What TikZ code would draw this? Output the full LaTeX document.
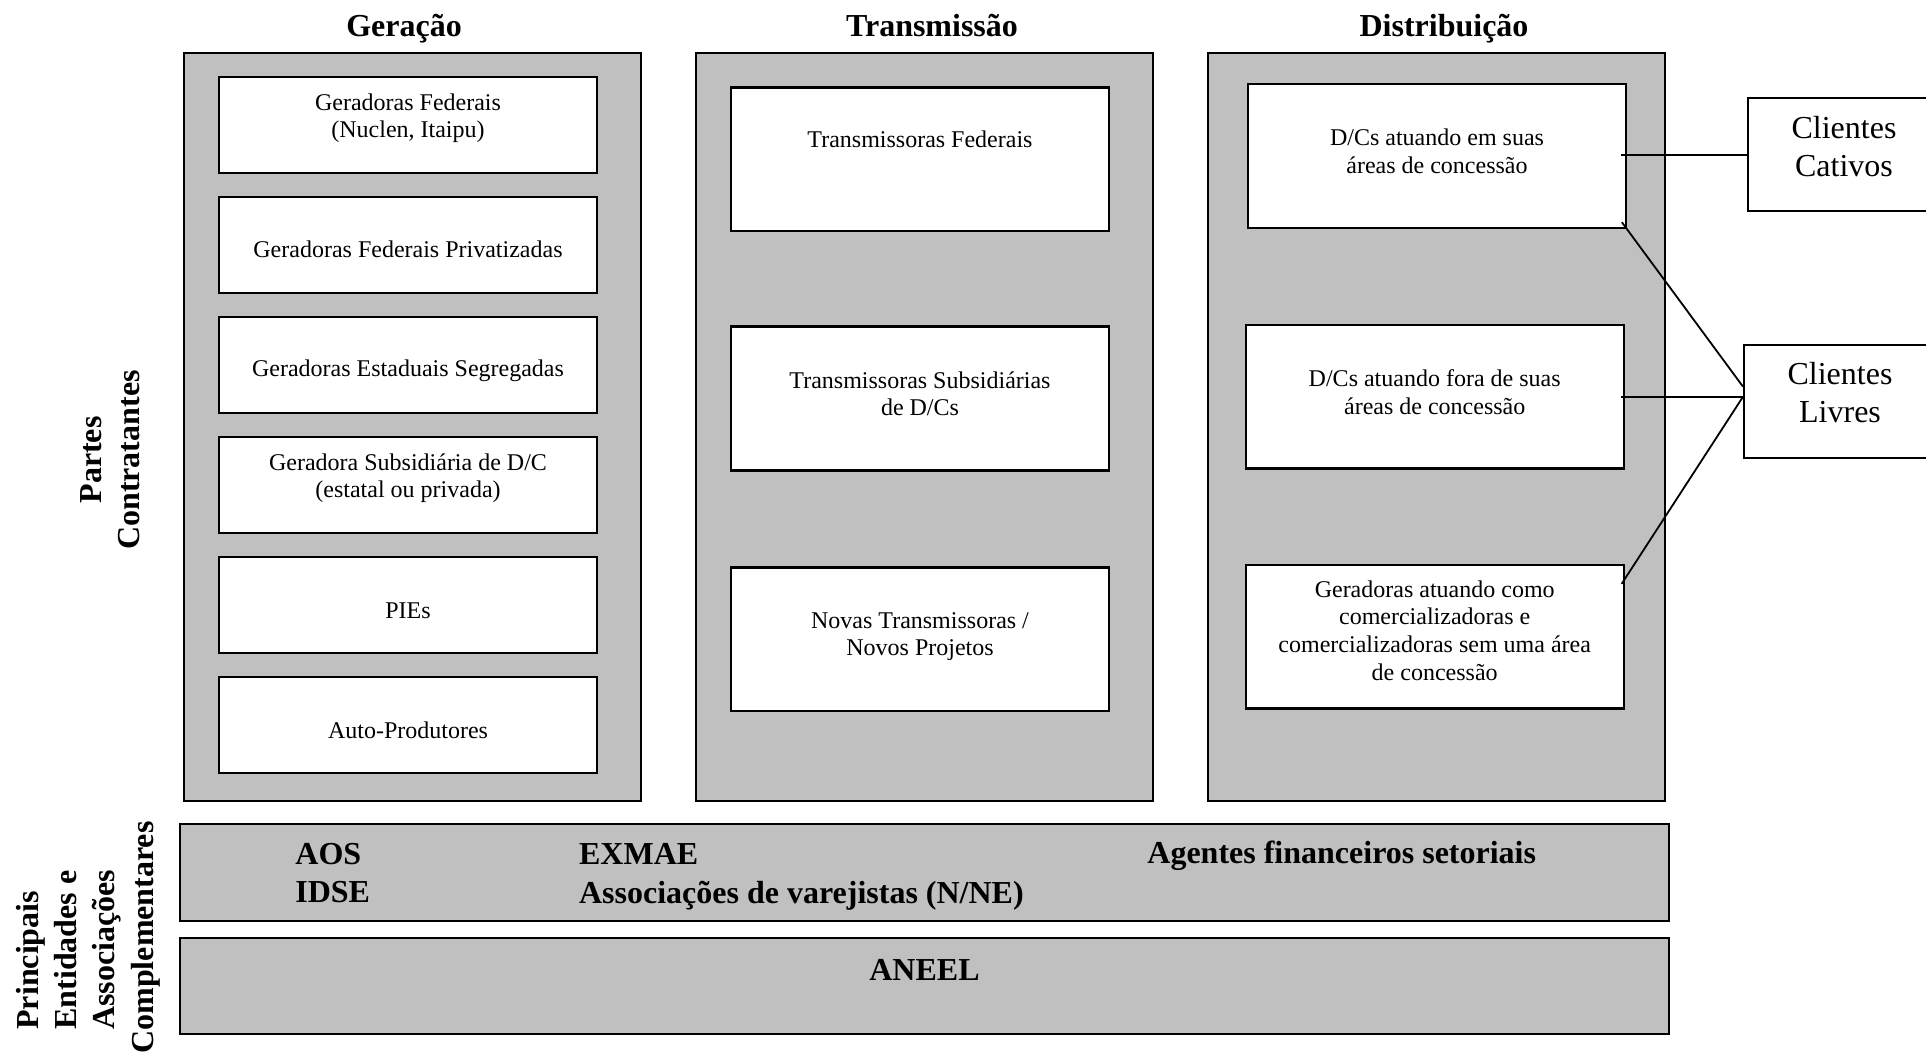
\documentclass[tikz,border=0pt]{standalone}
\usepackage{fontspec}
\setmainfont{Liberation Serif}
\definecolor{cinza}{RGB}{192,192,192}

\begin{document}
\begin{tikzpicture}[x=0.5pt, y=-0.5pt,
	painel/.style={draw, line width=1.1pt, fill=cinza},
	caixa/.style={draw, line width=1.2pt, fill=white, minimum width=189pt, inner sep=0pt},
	cliente/.style={draw, line width=1pt, fill=white, inner sep=0pt},
	texto/.style={font=\fontsize{12}{13.8}\selectfont, align=center, inner sep=0pt},
	titulo/.style={font=\fontsize{16}{19.2}\selectfont\bfseries, align=left, inner sep=0pt},
	nome/.style={font=\fontsize{16}{18.85}\selectfont, align=center, inner sep=0pt},
	ligacao/.style={line width=0.9pt}]
	\useasboundingbox (0,0) rectangle (1926,1053);
	\draw[painel] (184,53) rectangle (641,801);
	\draw[painel] (696,53) rectangle (1153,801);
	\draw[painel] (1208,53) rectangle (1665,801);
	\draw[painel] (180,824) rectangle (1669,921);
	\draw[painel] (180,938) rectangle (1669,1034);
	\node[caixa, minimum height=48pt] (g1) at (408,125) {};
	\node[caixa, minimum height=48pt] (g2) at (408,245) {};
	\node[caixa, minimum height=48pt] (g3) at (408,365) {};
	\node[caixa, minimum height=48pt] (g4) at (408,485) {};
	\node[caixa, minimum height=48pt] (g5) at (408,605) {};
	\node[caixa, minimum height=48pt] (g6) at (408,725) {};
	\node[caixa, minimum height=71.8pt] (t1) at (920,159.2) {};
	\node[caixa, minimum height=71.8pt] (t2) at (920,398.5) {};
	\node[caixa, minimum height=71.8pt] (t3) at (920,639.2) {};
	\node[caixa, minimum height=72pt] (d1) at (1437,156.3) {};
	\node[caixa, minimum height=71.7pt] (d2) at (1434.7,396.7) {};
	\node[caixa, minimum height=71.7pt] (d3) at (1434.7,636.7) {};
	\node[cliente, minimum width=95.9pt, minimum height=56.4pt] (cativos) at (1844.2,154.7) {};
	\node[cliente, minimum width=96pt, minimum height=56.7pt] (livres) at (1840,401.7) {};
	\coordinate (lv) at (livres.west |- d2.east);
	\draw[ligacao, shorten <=-3pt] (cativos.west -| d1.east) -- (cativos.west);
	\draw[ligacao, shorten <=-4.5pt] (d1.south east) -- ([yshift=5pt]lv);
	\draw[ligacao, shorten <=-2pt] (d2.east) -- (lv);
	\draw[ligacao, shorten <=-3pt] ([yshift=-7.5pt]d3.north east) -- (lv);
	\node[titulo, anchor=base] (geracao) at (404,37) {Geração};
	\node[titulo, anchor=base] (transmissao) at (932,37) {Transmissão};
	\node[titulo, anchor=base] (distribuicao) at (1444,37) {Distribuição};
	\node[texto, anchor=north] (tg1) at (408,93) {Geradoras Federais\\(Nuclen, Itaipu)};
	\node[texto, anchor=base] (tg2) at (408,258) {Geradoras Federais Privatizadas};
	\node[texto, anchor=base] (tg3) at (408,377) {Geradoras Estaduais Segregadas};
	\node[texto, anchor=north] (tg4) at (408,453) {Geradora Subsidiária de D/C\\(estatal ou privada)};
	\node[texto, anchor=base] (tg5) at (408,618) {PIEs};
	\node[texto, anchor=base] (tg6) at (408,738.3) {Auto-Produtores};
	\node[texto, anchor=base] (tt1) at (920,147.7) {Transmissoras Federais};
	\node[texto, anchor=north] (tt2) at (920,371) {Transmissoras Subsidiárias\\de D/Cs};
	\node[texto, anchor=north] (tt3) at (920,612) {Novas Transmissoras /\\Novos Projetos};
	\node[texto, anchor=north] (td1) at (1437,128.6) {D/Cs atuando em suas\\áreas de concessão};
	\node[texto, anchor=north] (td2) at (1434.7,369.6) {D/Cs atuando fora de suas\\áreas de concessão};
	\node[texto, anchor=north] (td3) at (1434.7,580.3) {Geradoras atuando como\\comercializadoras e\\comercializadoras sem uma área\\de concessão};
	\node[nome, anchor=north] (tcativos) at (1844,116.4) {Clientes\\Cativos};
	\node[nome, anchor=north] (tlivres) at (1840,362.1) {Clientes\\Livres};
	\node[titulo, anchor=north west] (aos) at (295,843) {AOS\\IDSE};
	\node[titulo, anchor=north west] (exmae) at (578.7,843.4) {EXMAE\\Associações de varejistas (N/NE)};
	\node[titulo, anchor=base west] (agentes) at (1147,863.5) {Agentes financeiros setoriais};
	\node[titulo, anchor=base] (aneel) at (924.5,980) {ANEEL};
	\node[titulo, align=center, rotate=90] (partes) at (110,460) {Partes\\Contratantes};
	\node[titulo, rotate=90, anchor=south west] (entidades) at (160.5,1030) {Principais\\Entidades e\\Associações\\\hspace*{-12pt}Complementares};
\end{tikzpicture}
\end{document}
